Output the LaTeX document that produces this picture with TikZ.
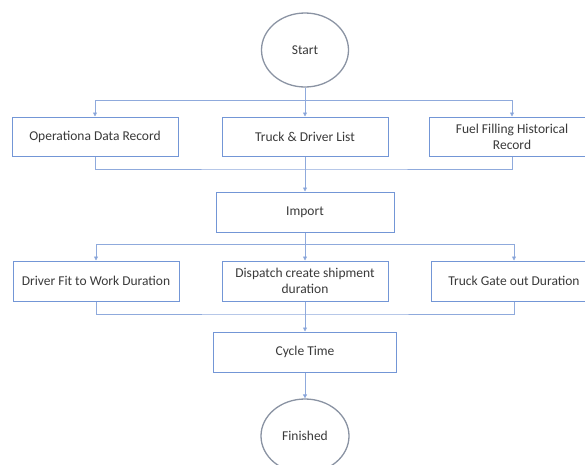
\documentclass[tikz,border=0pt]{standalone}
\usepackage{fontspec}
\setmainfont{Carlito}
\usetikzlibrary{shapes.geometric,arrows.meta}
\definecolor{linec}{HTML}{8FAADC}
\definecolor{boxc}{HTML}{7396D6}
\definecolor{circc}{HTML}{8A93A3}
\definecolor{txtc}{HTML}{3A3A3A}
\begin{document}
\begin{tikzpicture}[x=1pt,y=-1pt,
  every node/.style={font=\fontsize{13.5}{16}\selectfont, text=txtc},
  box/.style={draw=boxc, line width=1pt, rectangle, inner sep=0pt, align=center},
  term/.style={draw=circc, line width=1.3pt, ellipse, inner sep=0pt, minimum width=87pt, minimum height=74pt},
  conn/.style={draw=linec, line width=0.8pt},
  arr/.style={conn, -{Triangle[length=4pt,width=4pt,fill=boxc]}}]
\useasboundingbox (0,0) rectangle (585,464);
\clip (0,0) rectangle (585,464);
\fill[white] (0,0) rectangle (585,464);
% nodes
\node[term] (start) at (305,50) {Start};
\node[box, minimum width=166pt, minimum height=39pt] (b1) at (95,136.5) {Operationa Data Record};
\node[box, minimum width=166pt, minimum height=39pt] (b2) at (305,136.5) {Truck \& Driver List};
\node[box, minimum width=166pt, minimum height=39pt] (b3) at (512,136.5) {Fuel Filling Historical\\Record};
\node[box, minimum width=178pt, minimum height=40pt] (imp) at (305,212) {Import};
\node[box, minimum width=166pt, minimum height=40pt] (c1) at (96,281) {Driver Fit to Work Duration};
\node[box, minimum width=166pt, minimum height=40pt] (c2) at (305,281) {Dispatch create shipment\\duration};
\node[box, minimum width=166pt, minimum height=40pt] (c3) at (514,281) {Truck Gate out Duration};
\node[box, minimum width=183pt, minimum height=40pt] (cyc) at (305,352) {Cycle Time};
\node[term, minimum width=88pt] (fin) at (305,436) {Finished};
% junctions
\coordinate (j1) at (305,100);
\coordinate (j2) at (305,169);
\coordinate (j3) at (305,244);
\coordinate (j4) at (305,314);
% connectors
\draw[arr] (start) -- (b2);
\draw[arr] (j1) -| (b1);
\draw[arr] (j1) -| (b3);
\draw[conn] (b1.south) |- (j2) -| (b3.south);
\draw[arr] (b2) -- (imp);
\draw[arr] (imp) -- (c2);
\draw[arr] (j3) -| (c1);
\draw[arr] (j3) -| (c3);
\draw[conn] (c1.south) |- (j4) -| (c3.south);
\draw[arr] (c2) -- (cyc);
\draw[arr] (cyc) -- (fin);
\end{tikzpicture}
\end{document}
